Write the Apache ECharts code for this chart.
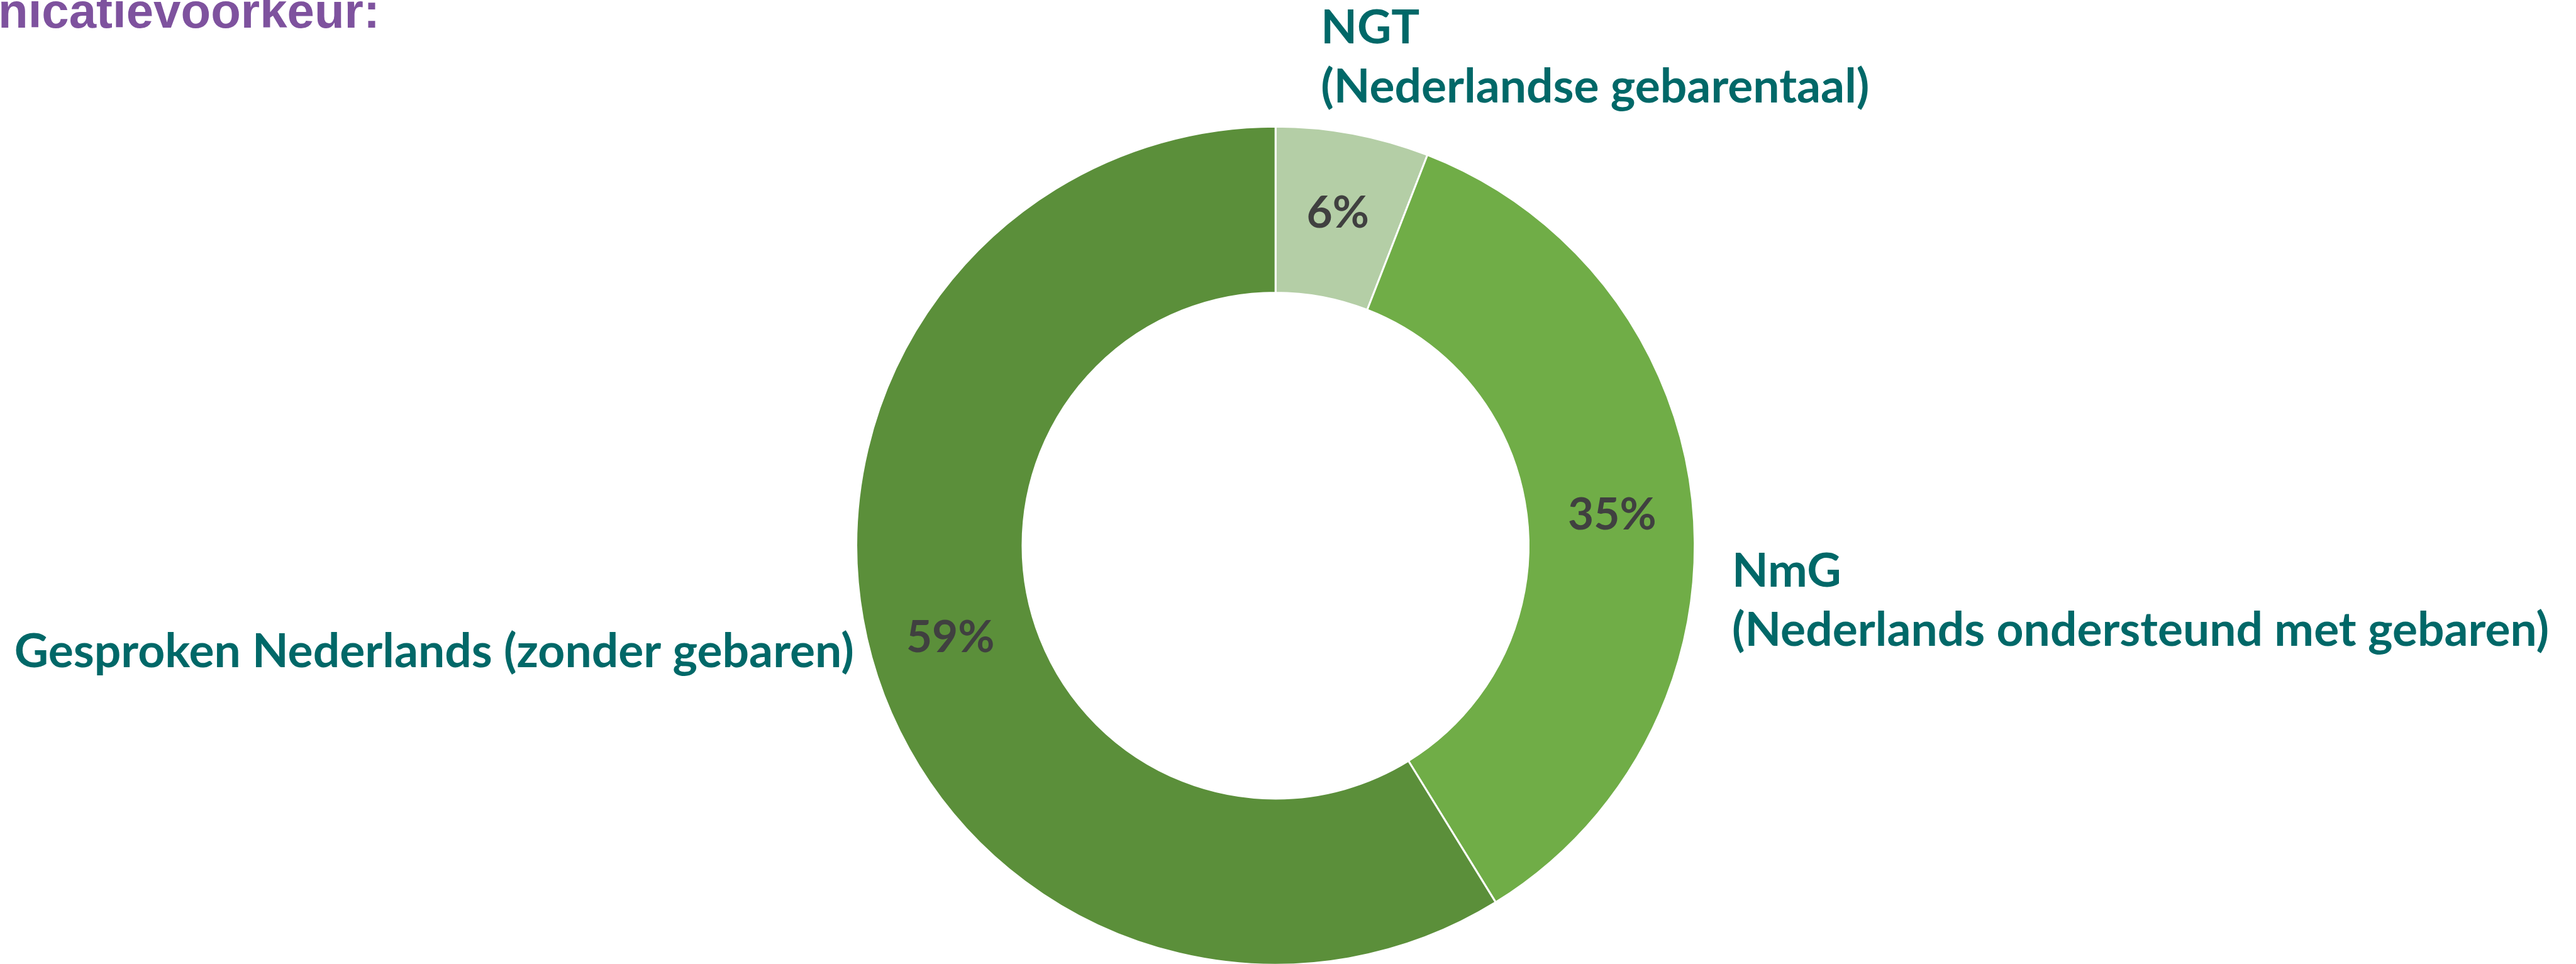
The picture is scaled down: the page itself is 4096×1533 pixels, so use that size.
<!DOCTYPE html>
<html>
<head>
<meta charset="utf-8">
<script src="https://cdn.jsdelivr.net/npm/echarts@6/dist/echarts.min.js"></script>
<style>
html, body { margin: 0; padding: 0; background: #fff; }
#chart { width: 4096px; height: 1533px; }
</style>
</head>
<body>
<div id="chart"></div>
<script>
var categories = [
    'NGT\n(Nederlandse gebarentaal)',
    'NmG\n(Nederlands ondersteund met gebaren)',
    'Gesproken Nederlands (zonder gebaren)'
];
var shares = [5.9, 35.3, 58.8];
var sliceColors = ['#B4CEA6', '#70AD47', '#5B8F3A'];
var titleText = 'nicatievoorkeur:';

var S = 0.986; // reference px -> window px

// hand placed category labels, in reference px: [x, y, align, verticalAlign]
var namePlace = [
    [2130, -2, 'left', 'top'],
    [2793, 874, 'left', 'top'],
    [1377, 1052, 'right', 'middle']
];

var pieData = [];
for (var i = 0; i < categories.length; i++) {
    pieData.push({ name: categories[i], value: shares[i], itemStyle: { color: sliceColors[i] } });
}

var myChart = echarts.init(document.getElementById('chart'));
myChart.setOption({
    animation: false,
    backgroundColor: '#ffffff',
    title: {
        text: titleText,
        left: -3,
        top: -17,
        padding: 0,
        textStyle: {
            fontFamily: 'Liberation Sans',
            fontWeight: 'bold',
            fontSize: 78,
            color: '#7E529E'
        }
    },
    series: [{
        type: 'pie',
        center: [2057 * S, 880 * S],
        radius: [408 * S, 676 * S],
        startAngle: 90,
        clockwise: true,
        percentPrecision: 0,
        silent: true,
        itemStyle: { borderColor: '#ffffff', borderWidth: 3 },
        label: {
            show: true,
            position: 'inside',
            formatter: '{d}%',
            fontFamily: 'Lato',
            fontWeight: 'bold',
            fontSize: 71,
            color: '#404040'
        },
        labelLine: { show: false },
        data: pieData
    }, {
        type: 'pie',
        center: [2057 * S, 880 * S],
        radius: [408 * S, 676 * S],
        startAngle: 90,
        silent: true,
        avoidLabelOverlap: false,
        itemStyle: { color: 'transparent', borderWidth: 0 },
        label: {
            show: true,
            position: 'outside',
            formatter: '{b}',
            overflow: 'none',
            fontFamily: 'Lato',
            fontWeight: 'bold',
            fontSize: 75,
            lineHeight: 94,
            color: '#006868'
        },
        labelLine: { show: false },
        labelLayout: function (params) {
            var p = namePlace[params.dataIndex];
            return { x: p[0] * S, y: p[1] * S, align: p[2], verticalAlign: p[3] };
        },
        data: categories.map(function (c, i) { return { name: c, value: shares[i] }; })
    }]
});
</script>
</body>
</html>
